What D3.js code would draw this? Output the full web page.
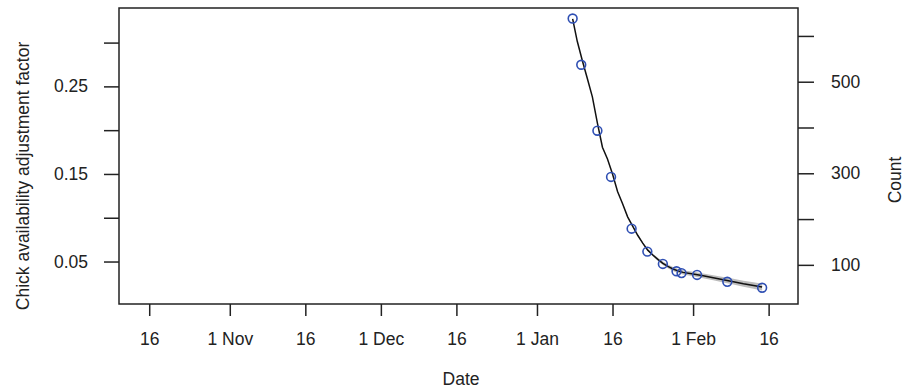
<!DOCTYPE html>
<html>
<head>
<meta charset="utf-8">
<script src="https://cdn.jsdelivr.net/npm/d3@7"></script>
<style>
  body { margin: 0; background: #fff; }
  text { font-family: "Liberation Sans", Arial, sans-serif; fill: #222; }
</style>
</head>
<body>
<div class="vis"></div>
<script>
// observed counts (right axis)
const obsDates = ["2015-01-08T02:00", "2015-01-09T19:00", "2015-01-13T00:00", "2015-01-15T17:00",
  "2015-01-19T19:00", "2015-01-22T22:00", "2015-01-26T00:00", "2015-01-28T17:00",
  "2015-01-29T17:00", "2015-02-01T19:00", "2015-02-07T19:00", "2015-02-14T17:00"];
const obsCount = [638, 537, 393, 292, 179, 129, 102, 86, 82, 78, 63, 50];

// fitted adjustment factor (left axis) with interval half-width
const fitDates = ["2015-01-08T02:00", "2015-01-09", "2015-01-10", "2015-01-11", "2015-01-12", "2015-01-13",
  "2015-01-14", "2015-01-15", "2015-01-16", "2015-01-17", "2015-01-18", "2015-01-19", "2015-01-20",
  "2015-01-21", "2015-01-22", "2015-01-23", "2015-01-24", "2015-01-25", "2015-01-26", "2015-01-27",
  "2015-01-28", "2015-01-29", "2015-01-30", "2015-02-01", "2015-02-03", "2015-02-05", "2015-02-07",
  "2015-02-09", "2015-02-11", "2015-02-13", "2015-02-14T17:00"];
const fitValue = [0.327, 0.3015, 0.2795, 0.2590, 0.2380, 0.2080, 0.1805, 0.1670, 0.1500, 0.1300,
  0.1160, 0.1010, 0.0905, 0.0800, 0.0710, 0.0630, 0.0575, 0.0525, 0.0480, 0.0445,
  0.0415, 0.0393, 0.0376, 0.0358, 0.0337, 0.0315, 0.0292, 0.0270, 0.0246, 0.0225, 0.0208];
const fitHalf = [0, 0, 0, 0, 0, 0, 0, 0, 0, 0,
  0.0003, 0.0005, 0.0007, 0.0009, 0.0011, 0.0013, 0.0015, 0.0017, 0.0019, 0.0021,
  0.0022, 0.0023, 0.0024, 0.0026, 0.0027, 0.0029, 0.0031, 0.0033, 0.0035, 0.0037, 0.0038];

const xTickDates = ["2014-10-16", "2014-11-01", "2014-11-16", "2014-12-01", "2014-12-16",
  "2015-01-01", "2015-01-16", "2015-02-01", "2015-02-16"];
const xTickLabels = ["16", "1 Nov", "16", "1 Dec", "16", "1 Jan", "16", "1 Feb", "16"];
const leftTicks = [0.05, 0.10, 0.15, 0.20, 0.25, 0.30];
const leftLabels = [0.05, 0.15, 0.25];
const rightTicks = [100, 200, 300, 400, 500, 600];
const rightLabels = [100, 300, 500];

const W = 904, H = 389;
const margin = { top: 8, right: 106, bottom: 85, left: 119 };
const width = W - margin.left - margin.right;
const height = H - margin.top - margin.bottom;
const parse = d3.isoParse;
const fs = 17.5;

const svg = d3.select(".vis").append("svg")
  .attr("width", W).attr("height", H);
const g = svg.append("g")
  .attr("transform", "translate(" + margin.left + "," + margin.top + ")");

const x = d3.scaleUtc()
  .domain([parse("2014-10-10"), parse("2015-02-21T20:00")])
  .range([0, width]);
const yL = d3.scaleLinear().domain([0.0015, 0.3395]).range([height, 0]);
const yR = d3.scaleLinear().domain([14.5, 661]).range([height, 0]);

const fit = fitDates.map((d, i) => ({ date: parse(d), v: fitValue[i], h: fitHalf[i] }));
const obs = obsDates.map((d, i) => ({ date: parse(d), v: obsCount[i] }));

// interval band
g.append("path")
  .datum(fit.filter(d => d.h > 0))
  .attr("fill", "#bdbdbd")
  .attr("d", d3.area()
    .x(d => x(d.date))
    .y0(d => yL(d.v - d.h))
    .y1(d => yL(d.v + d.h)));

// fitted line
g.append("path")
  .datum(fit)
  .attr("fill", "none")
  .attr("stroke", "#111")
  .attr("stroke-width", 1.5)
  .attr("d", d3.line().x(d => x(d.date)).y(d => yL(d.v)));

// observed points
g.selectAll(".pt")
  .data(obs)
  .enter()
  .append("circle")
  .attr("cx", d => x(d.date))
  .attr("cy", d => yR(d.v))
  .attr("r", 4.4)
  .attr("fill", "none")
  .attr("stroke", "#2f4fb3")
  .attr("stroke-width", 1.6);

// box
g.append("rect")
  .attr("width", width).attr("height", height)
  .attr("fill", "none").attr("stroke", "#222").attr("stroke-width", 1.5);

// axes
const xAxis = g.append("g")
  .attr("transform", "translate(0," + height + ")")
  .call(d3.axisBottom(x)
    .tickValues(xTickDates.map(parse))
    .tickFormat((d, i) => xTickLabels[i])
    .tickSize(12).tickPadding(17));

const leftAxis = g.append("g")
  .call(d3.axisLeft(yL)
    .tickValues(leftTicks)
    .tickFormat(d => leftLabels.some(v => Math.abs(v - d) < 1e-9) ? d3.format(".2f")(d) : "")
    .tickSize(15).tickPadding(16));

const rightAxis = g.append("g")
  .attr("transform", "translate(" + width + ",0)")
  .call(d3.axisRight(yR)
    .tickValues(rightTicks)
    .tickFormat(d => rightLabels.includes(d) ? d : "")
    .tickSize(16).tickPadding(17));

[xAxis, leftAxis, rightAxis].forEach(a => {
  a.select(".domain").remove();
  a.selectAll(".tick line").attr("stroke", "#222").attr("stroke-width", 1.5);
  a.selectAll(".tick text").attr("font-size", fs).attr("fill", "#222")
    .attr("font-family", "'Liberation Sans', Arial, sans-serif");
});

// titles
svg.append("text")
  .attr("x", 461).attr("y", 385)
  .attr("text-anchor", "middle").attr("font-size", fs)
  .text("Date");

svg.append("text")
  .attr("transform", "translate(29,176) rotate(-90)")
  .attr("text-anchor", "middle").attr("font-size", fs)
  .text("Chick availability adjustment factor");

svg.append("text")
  .attr("transform", "translate(901,180) rotate(-90)")
  .attr("text-anchor", "middle").attr("font-size", fs)
  .text("Count");
</script>
</body>
</html>
